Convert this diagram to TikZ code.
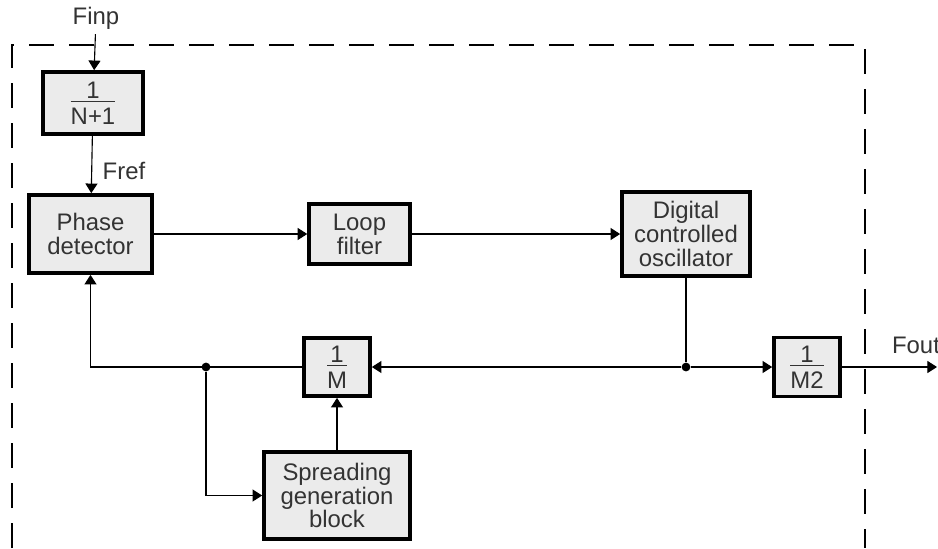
\documentclass[tikz,border=0pt]{standalone}
\usepackage{fontspec}
\setmainfont{Liberation Sans}
\usepackage{amsmath}
\usepackage{tikz}
\usetikzlibrary{arrows.meta,calc,positioning}
\definecolor{boxCol}{HTML}{EBEBEB}
\definecolor{txtCol}{HTML}{333333}
\newcommand{\divby}[2]{$\genfrac{}{}{0.8pt}{1}{\mbox{#1}\rule[-0.6pt]{0pt}{0pt}}{\rule{0pt}{15pt}\mbox{#2}}$}

\begin{document}
\begin{tikzpicture}[x=0.025cm,y=-0.025cm,every node/.style={font=\fontsize{17pt}{17pt}\selectfont,text=txtCol}]
  \tikzset{blk/.style n args={2}{draw=black,fill=boxCol,line width=2.6pt,align=center,inner sep=2pt,
        minimum width=#1,minimum height=#2},
        arr/.style={line width=0.8pt,-{Triangle[length=0.24cm,width=0.3cm]}},
        ln/.style={line width=0.8pt},
        dot/.style={circle,fill=black,inner sep=0pt,minimum size=0.22cm},
        frame/.style={line width=0.8pt,dash pattern=on 0.625cm off 0.375cm}}
  \useasboundingbox (0,0) rectangle (938,548);
  \draw[frame] (12,548) -- (12,45) -- (865,45) -- (865,548);
  \node (finp) at (96,18) {Finp};
  \node[blk={2.5cm}{1.55cm}] (div1) at (93,103) {\divby{1}{N+1}};
  \node[blk={3.08cm}{1.95cm}] (pd) at (90.5,234) {Phase\\detector};
  \node[blk={2.52cm}{1.5cm}] (lf) at (359.5,234) {Loop\\filter};
  \node[blk={3.2cm}{2.1cm}] (dco) at (686,234) {Digital\\controlled\\oscillator};
  \node[blk={1.65cm}{1.45cm}] (divm) at (337,367) {\divby{1}{M}};
  \node[blk={1.65cm}{1.47cm}] (divm2) at (807,367) {\divby{1}{M2}};
  \node[blk={3.65cm}{2.18cm}] (sg) at (337,495.5) {Spreading\\generation\\block};
  \node (fout) at (916,345) {Fout};
  \node[dot] (j1) at (206,367) {};
  \node[dot] (j2) at (686,367) {};
  \coordinate (out) at (937,367);
  \draw[arr] (finp) -- (div1);
  \draw[arr] (div1) -- (pd) node[midway,right,xshift=4pt,yshift=-4.5pt]{Fref};
  \draw[arr] (pd) -- (lf);
  \draw[arr] (lf) -- (dco);
  \draw[ln] (dco.south) -- (j2);
  \draw[arr] (j2) -- (divm.east);
  \draw[arr] (j2) -- (divm2.west);
  \draw[arr] (divm2.east) -- (out);
  \draw[arr] (divm.west) -| (pd.south);
  \draw[arr] (j1) |- (sg.west);
  \draw[arr] (sg) -- (divm);
\end{tikzpicture}
\end{document}
